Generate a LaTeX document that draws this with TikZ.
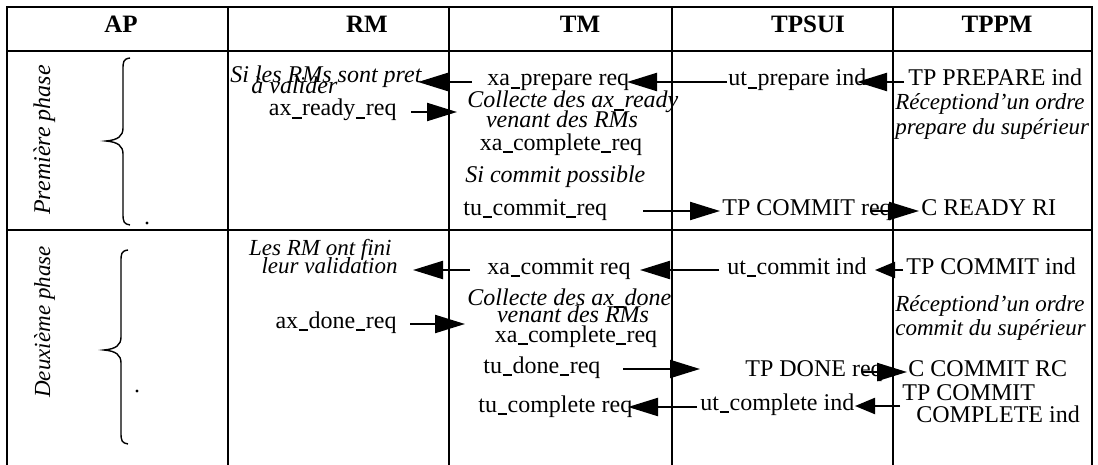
\documentclass[tikz,border=0pt]{standalone}
\usepackage{fontspec}
\setmainfont{Liberation Serif}
\usetikzlibrary{arrows.meta}
\newcommand{\usc}{\kern0.02em\rule[-0.11em]{0.4em}{0.055em}\kern0.02em}
\begin{document}
\begin{tikzpicture}[x=0.5pt,y=-0.5pt,
  grid/.style={line width=1.4pt,line cap=rect},
  tb/.style={inner sep=0pt,text height=0.7em,text depth=0.2em},
  hdr/.style={tb,font=\fontsize{12.5}{13}\selectfont\bfseries},
  txt/.style={tb,font=\fontsize{12}{12}\selectfont},
  itx/.style={tb,font=\fontsize{12}{12}\selectfont\itshape},
  sitx/.style={tb,font=\fontsize{11.5}{12}\selectfont\itshape},
  brace/.style={line width=0.7pt},
  arr/.style={line width=1.1pt,-{Triangle[length=15pt,width=9pt]}},
  sarr/.style={line width=1.1pt,-{Triangle[length=10pt,width=8pt]}}]
\useasboundingbox (0,0) rectangle (1098,465);
% grid
\draw[grid] (7,465) -- (7,7) -- (1092,7) -- (1092,465);
\draw[grid] (7,51) -- (1092,51);
\draw[grid] (7,230) -- (1092,230);
\foreach \xx in {228,449,672,893} \draw[grid] (\xx,7) -- (\xx,465);
% headers
\node[hdr] (hAP) at (121,28) {AP};
\node[hdr] (hRM) at (367,28) {RM};
\node[hdr] (hTM) at (580,28) {TM};
\node[hdr] (hTPSUI) at (808,28) {TPSUI};
\node[hdr] (hTPPM) at (997,28) {TPPM};
% phase labels
\node[itx,rotate=90] (ph1) at (45,140) {Première phase};
\node[sitx,rotate=90] (ph2) at (45,322) {Deuxième phase};
\draw[brace] (130,58) .. controls (123,59) and (123,62) .. (123,70) -- (123,128)
  .. controls (123,136) and (118,140) .. (106,141)
  .. controls (118,142) and (123,146) .. (123,154) -- (123,214)
  .. controls (123,222) and (124,224) .. (130,225);
\draw[brace] (128,250) .. controls (121,251) and (121,254) .. (121,262) -- (121,337)
  .. controls (121,345) and (116,349) .. (104,350)
  .. controls (116,351) and (121,355) .. (121,363) -- (121,433)
  .. controls (121,441) and (122,443) .. (128,444);
\fill (147,223) circle (0.8pt);
\fill (137,391) circle (0.8pt);
% ---- phase 1
\node[itx,anchor=west] (sirm) at (230,78) {Si les RMs sont pret};
\node[itx,anchor=west] (aval) at (251,89) {à valider};
\node[txt,anchor=east] (axready) at (397,111) {ax\usc ready\usc req};
\node[txt,anchor=west] (xaprep) at (487,81) {xa\usc prepare req};
\node[txt,anchor=west] (utprep) at (728,81) {ut\usc prepare ind};
\node[txt,anchor=west] (tpprep) at (908,81) {TP PREPARE ind};
\node[itx,anchor=west] (coll1) at (467,103) {Collecte des ax\usc ready};
\node[itx] (ven1) at (562,122) {venant des RMs};
\node[txt] (xacomp1) at (561,145) {xa\usc complete\usc req};
\node[sitx,anchor=west] (rec1) at (895,105) {Réceptiond'un ordre};
\node[sitx,anchor=west] (sup1) at (895,129) {prepare du supérieur};
\node[itx,anchor=west] (sicommit) at (465,178) {Si commit possible};
\node[txt,anchor=west] (tucommit) at (463,210) {tu\usc commit\usc req};
\node[txt,anchor=west] (tpcommitreq) at (722,210) {TP COMMIT req};
\node[txt,anchor=west] (creadyri) at (921,210) {C READY RI};
\coordinate (a1s) at (472,82); \coordinate (a1e) at (418,82);
\coordinate (a2s) at (727,82); \coordinate (a2e) at (627,82);
\coordinate (a3s) at (904,82); \coordinate (a3e) at (857,82);
\coordinate (a4s) at (411,112); \coordinate (a4e) at (457,112);
\coordinate (a5s) at (643,211); \coordinate (a5e) at (720,211);
\coordinate (a6s) at (870,211); \coordinate (a6e) at (919,211);
\draw[arr] (a1s) -- (a1e);
\draw[arr] (a2s) -- (a2e);
\draw[arr] (a3s) -- (a3e);
\draw[arr] (a4s) -- (a4e);
\draw[arr] (a5s) -- (a5e);
\draw[arr] (a6s) -- (a6e);
% ---- phase 2
\node[sitx,anchor=east] (lesrm) at (392,250) {Les RM ont fini};
\node[sitx,anchor=east] (leurval) at (398,268) {leur validation};
\node[txt,anchor=west] (xacommit) at (487,269) {xa\usc commit req};
\node[txt,anchor=west] (utcommit) at (727,269) {ut\usc commit ind};
\node[txt,anchor=west] (tpcommitind) at (906,269) {TP COMMIT ind};
\node[itx,anchor=west] (coll2) at (467,300) {Collecte des ax\usc done};
\node[itx] (ven2) at (573,317) {venant des RMs};
\node[txt] (xacomp2) at (576,337) {xa\usc complete\usc req};
\node[txt,anchor=east] (axdone) at (397,323) {ax\usc done\usc req};
\node[sitx,anchor=west] (rec2) at (895,306) {Réceptiond'un ordre};
\node[sitx,anchor=west] (sup2) at (895,330) {commit du supérieur};
\node[txt,anchor=west] (tudone) at (483,368) {tu\usc done\usc req};
\node[txt,anchor=west] (tpdone) at (745,371) {TP DONE req};
\node[txt,anchor=west] (ccommitrc) at (908,371) {C COMMIT RC};
\node[txt,anchor=west] (tucomplete) at (478,407) {tu\usc complete req};
\node[txt,anchor=west] (utcomplete) at (700,405) {ut\usc complete ind};
\node[txt,anchor=west] (tpcommit3) at (902,395) {TP COMMIT};
\node[txt,anchor=west] (completeind) at (916,417) {COMPLETE ind};
\coordinate (b1s) at (470,270); \coordinate (b1e) at (413,270);
\coordinate (b2s) at (719,270); \coordinate (b2e) at (640,270);
\coordinate (b3s) at (903,270); \coordinate (b3e) at (875,270);
\coordinate (b4s) at (410,324); \coordinate (b4e) at (465,324);
\coordinate (b5s) at (623,369); \coordinate (b5e) at (700,369);
\coordinate (b6s) at (862,372); \coordinate (b6e) at (907,372);
\coordinate (b7s) at (697,407); \coordinate (b7e) at (628,407);
\coordinate (b8s) at (900,406); \coordinate (b8e) at (855,406);
\draw[arr] (b1s) -- (b1e);
\draw[arr] (b2s) -- (b2e);
\draw[sarr] (b3s) -- (b3e);
\draw[arr] (b4s) -- (b4e);
\draw[arr] (b5s) -- (b5e);
\draw[arr] (b6s) -- (b6e);
\draw[arr] (b7s) -- (b7e);
\draw[sarr] (b8s) -- (b8e);
\end{tikzpicture}
\end{document}
